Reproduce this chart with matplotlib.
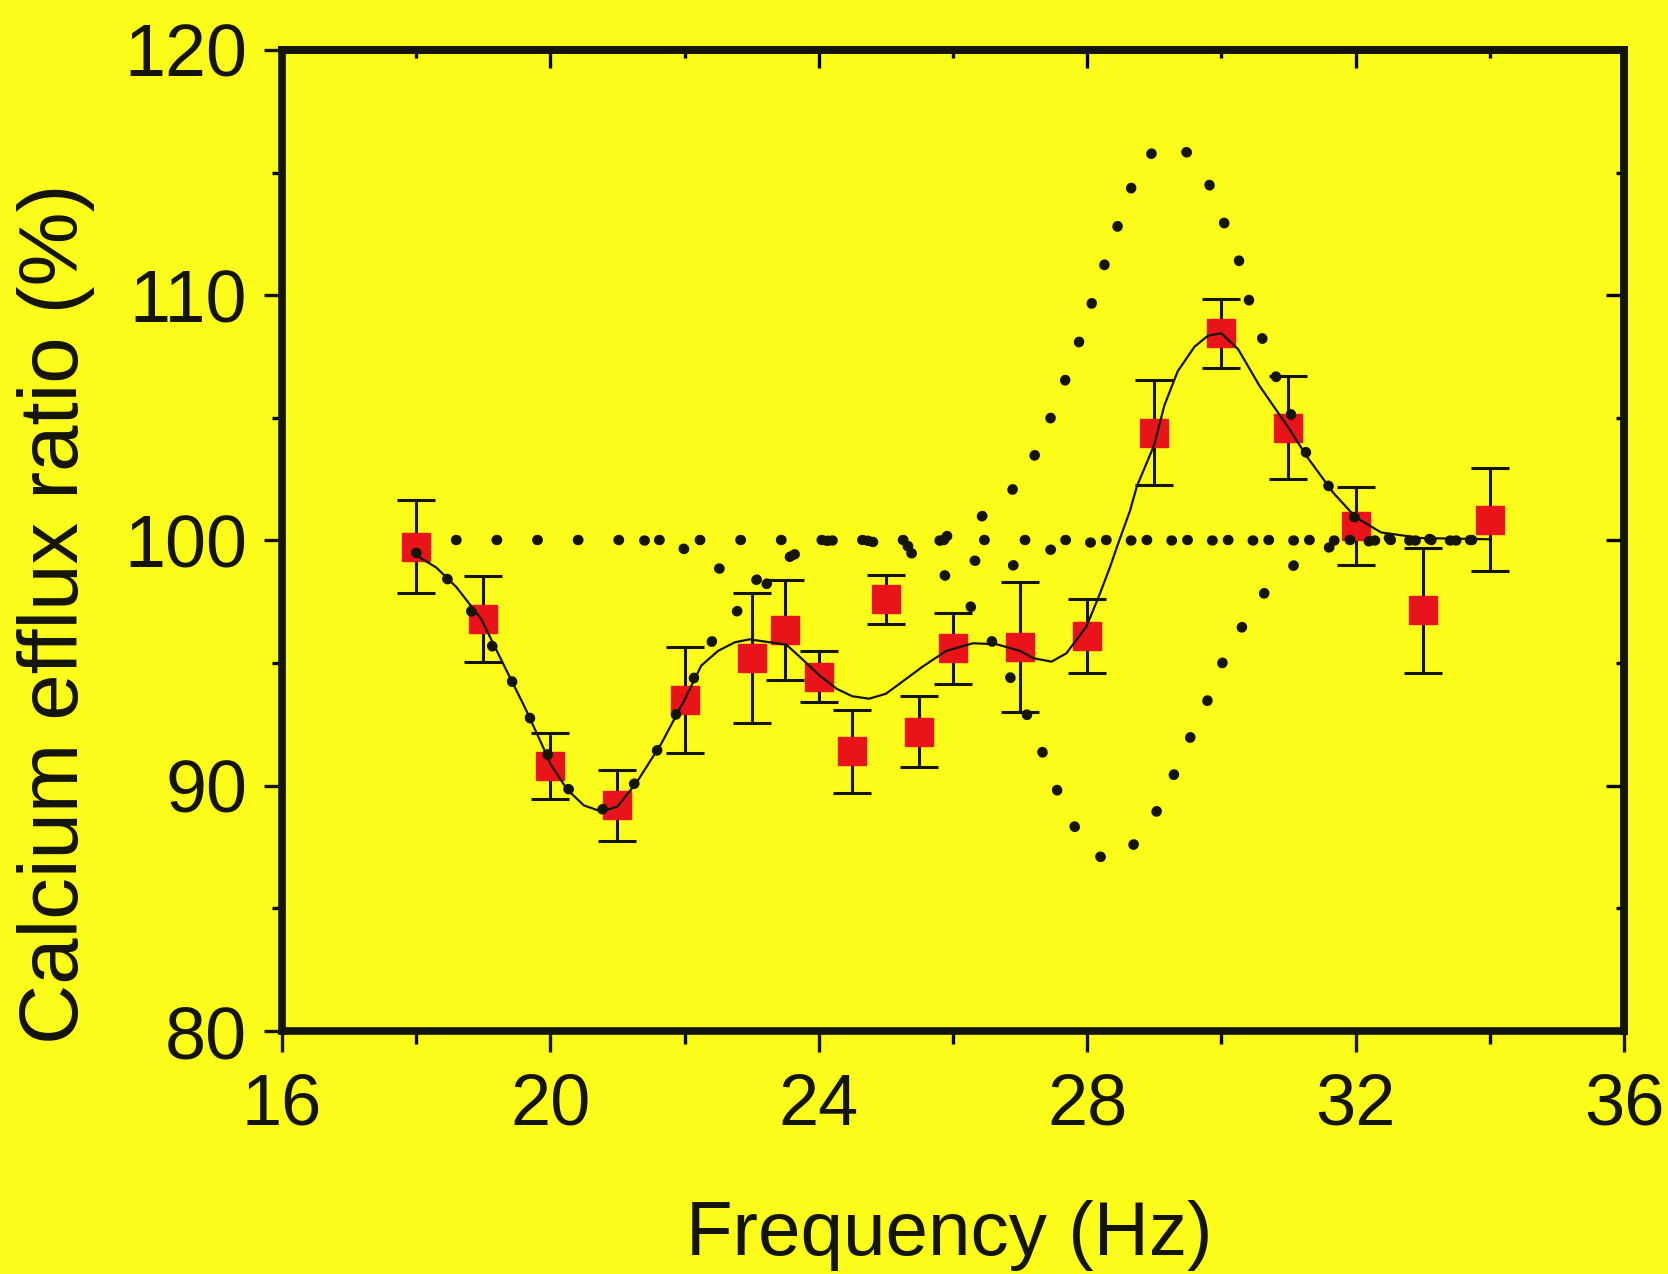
import matplotlib
matplotlib.use('Agg')
import matplotlib.pyplot as plt
from matplotlib.ticker import MultipleLocator

plt.rcParams['font.family'] = ['Liberation Sans', 'DejaVu Sans']

bg = '#fcfc1a'
red = '#e8141a'
ink = '#141408'

# measured points (Hz, %, +/- error)
freq = [18, 19, 20, 21, 22, 23, 23.5, 24, 24.5, 25, 25.5, 26, 27, 28, 29, 30, 31, 32, 33, 34]
ratio = [99.75, 96.8, 90.8, 89.2, 93.5, 95.2, 96.35, 94.45, 91.4, 97.6, 92.2, 95.6,
         95.65, 96.1, 104.4, 108.45, 104.6, 100.6, 97.15, 100.85]
err = [1.9, 1.75, 1.35, 1.45, 2.15, 2.65, 2.05, 1.05, 1.7, 1.0, 1.45, 1.45,
       2.65, 1.5, 2.15, 1.4, 2.1, 1.6, 2.55, 2.1]

# solid fitted curve
fit_x = [18, 18.3, 18.6, 18.97, 19.32, 19.62, 19.88, 20.0, 20.25, 20.5, 20.76, 21.0,
         21.29, 21.66, 22.0, 22.25, 22.5, 22.75, 22.97, 23.27, 23.52, 23.72, 24.02, 24.27,
         24.5, 24.75, 25.0, 25.2, 25.55, 25.9, 26.3, 26.65, 27.0, 27.2, 27.47, 27.69, 27.99,
         28.19, 28.34, 28.46, 28.64, 28.74, 29.0, 29.15, 29.35, 29.6, 29.8, 30.0, 30.25,
         30.57, 31.0, 31.28, 31.67, 32.0, 32.38, 32.97, 34.0]
fit_y = [99.4, 98.9, 98.1, 96.8, 94.85, 93.2, 91.65, 90.9, 89.85, 89.2, 88.95, 89.15,
         90.15, 91.75, 93.5, 94.9, 95.5, 95.85, 95.97, 95.85, 95.75, 95.25, 94.48, 93.95,
         93.65, 93.55, 93.75, 94.15, 94.86, 95.5, 95.81, 95.77, 95.5, 95.2, 95.06, 95.4, 96.49,
         97.83, 98.91, 99.86, 101.22, 102.2, 103.9, 105.5, 106.9, 107.9, 108.35, 108.45, 107.8,
         106.3, 104.6, 103.4, 101.94, 100.95, 100.33, 100.1, 100.05]

# dotted curves
base_x = [18.6, 34]
base_y = [100, 100]

low_x = [18, 18.6, 19.32, 19.62, 19.88, 20.25, 20.76, 21.29, 21.66, 22.25, 22.54, 23.02,
         23.6, 24.14, 24.71, 25.26, 25.78, 26.25, 26.6, 26.9, 27.15, 27.4, 27.63, 27.96,
         28.2, 28.5, 28.94, 29.22, 29.48, 29.77, 29.99, 30.32, 30.7, 31.25, 31.8, 32.4, 34]
low_y = [99.5, 98.12, 94.85, 93.22, 91.66, 89.9, 89.0, 90.17, 91.73, 95.0, 96.62, 97.6,
         99.39, 100, 100, 99.66, 98.9, 97.37, 95.8, 94.17, 92.6, 90.93, 89.26, 87.6,
         87.1, 86.97, 88.42, 89.99, 91.64, 93.31, 94.88, 96.53, 98.1, 99.38, 99.9, 100, 100]

up_x = [21.4, 21.9, 22.48, 23.02, 23.6, 24.14, 24.71, 25.25, 25.78, 26.33, 26.87, 27.27,
        27.5, 27.73, 27.94, 28.13, 28.33, 28.54, 28.76, 29.0, 29.25, 29.5, 29.77, 29.99,
        30.24, 30.38, 30.59, 30.8, 31.0, 31.28, 31.67, 31.95, 32.25, 32.5, 34]
up_y = [100, 99.8, 98.9, 98.3, 99.39, 100, 100, 99.73, 100, 100.75, 102.0, 103.69,
        105.31, 106.94, 108.56, 110.2, 111.83, 113.49, 115.15, 115.9, 116.2, 115.8, 114.88,
        113.28, 111.68, 110.05, 108.39, 106.78, 105.4, 103.46, 101.94, 101.0, 100.57, 100.1, 100]

mid_x = [25.8, 26.3, 26.76, 27.35, 27.9, 28.5, 34]
mid_y = [100, 99.2, 98.81, 99.56, 99.89, 100, 100]

fig = plt.figure(figsize=(16.68, 12.74), dpi=100, facecolor=bg)
ax = fig.add_axes([0.169, 0.1907, 0.8046, 0.7701], facecolor=bg)

ax.errorbar(freq, ratio, yerr=err, fmt='none', ecolor=ink, elinewidth=2.2,
            capsize=13.5, capthick=2.2, zorder=2)
ax.plot(freq, ratio, 's', ms=20, color=red, mec=red, zorder=3)

ax.plot(fit_x, fit_y, '-', color=ink, lw=1.6, zorder=4)

dot = dict(color=ink, lw=7.5, dashes=(0.05, 3.85), dash_capstyle='round', zorder=5)
ax.plot(base_x, base_y, **dot)
ax.plot(low_x, low_y, **dot)
ax.plot(up_x, up_y, **dot)
ax.plot(mid_x, mid_y, **dot)

ax.set_xlim(16, 36)
ax.set_ylim(80, 120)
ax.xaxis.set_major_locator(MultipleLocator(4))
ax.xaxis.set_minor_locator(MultipleLocator(2))
ax.yaxis.set_major_locator(MultipleLocator(10))
ax.yaxis.set_minor_locator(MultipleLocator(5))

for s in ax.spines.values():
    s.set_linewidth(5.5)
    s.set_color(ink)

ax.tick_params(axis='y', which='major', direction='out', length=13, width=2.4,
               pad=12, labelsize=53, colors=ink)
ax.tick_params(axis='y', which='minor', direction='out', length=7, width=2.4)
ax.tick_params(axis='x', which='major', direction='out', length=15, width=2.4,
               pad=15, labelsize=52, colors=ink)
ax.tick_params(axis='x', which='minor', direction='out', length=9, width=2.4)

secx = ax.secondary_xaxis('top')
secx.xaxis.set_major_locator(MultipleLocator(4))
secx.xaxis.set_minor_locator(MultipleLocator(2))
secx.tick_params(which='major', direction='in', length=13, width=2.4, labeltop=False)
secx.tick_params(which='minor', direction='in', length=6, width=2.4)
secx.spines['top'].set_linewidth(5.5)

secy = ax.secondary_yaxis('right')
secy.yaxis.set_major_locator(MultipleLocator(10))
secy.yaxis.set_minor_locator(MultipleLocator(5))
secy.tick_params(which='major', direction='in', length=13, width=2.4, labelright=False)
secy.tick_params(which='minor', direction='in', length=6, width=2.4)
secy.spines['right'].set_linewidth(5.5)

ax.set_xlabel('Frequency (Hz)', fontsize=55, color=ink)
ax.set_ylabel('Calcium efflux ratio (%)', fontsize=60, color=ink)
ax.xaxis.set_label_coords(0.497, -0.172)
ax.yaxis.set_label_coords(-0.139, 0.425)

fig.savefig('out.png', dpi=100, facecolor=bg)
